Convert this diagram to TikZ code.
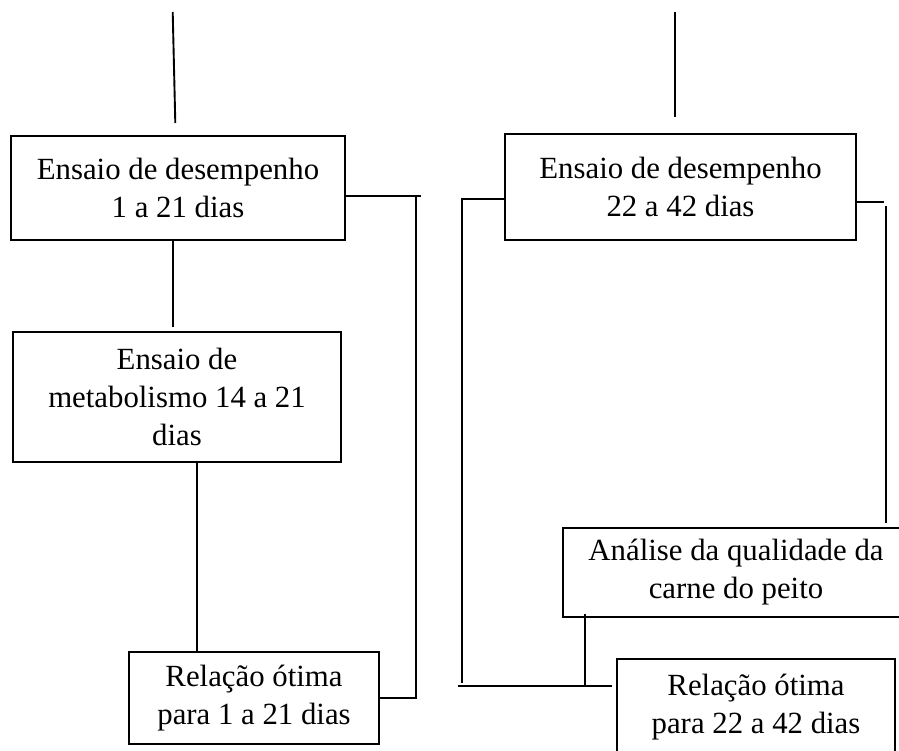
\documentclass[tikz,border=0pt]{standalone}
\usepackage{fontspec}
\setmainfont{Liberation Serif}
\begin{document}
\begin{tikzpicture}[x=1pt,y=-1pt,
  box/.style={draw=black, line width=1.9pt, inner sep=0pt, align=center,
    font=\fontsize{30.8}{38}\selectfont},
  conn/.style={draw=black, line width=1.9pt}]
\useasboundingbox (0,0) rectangle (899,751);
\clip (0,0) rectangle (899,751);
\fill[white] (0,0) rectangle (899,751);

% boxes
\node[box, minimum width=334, minimum height=104] (A) at (178,188)
  {Ensaio de desempenho\\1 a 21 dias};
\node[box, minimum width=328, minimum height=130] (B) at (177,397)
  {Ensaio de\\metabolismo 14 a 21\\dias};
\node[box, minimum width=250, minimum height=92] (C) at (254,698)
  {Relação ótima\\para 1 a 21 dias};
\node[box, minimum width=351, minimum height=106] (D) at (680.5,187)
  {Ensaio de desempenho\\22 a 42 dias};
\node[box, minimum width=346, minimum height=89] (E) at (736,572.5)
  {Análise da qualidade da\\carne do peito};
\node[box, minimum width=278, minimum height=97] (F) at (756,707.5)
  {Relação ótima\\para 22 a 42 dias};

% free ends
\coordinate (tl1) at (172.7,12);
\coordinate (tl2) at (175.3,123);
\coordinate (tr1) at (675,12);
\coordinate (tr2) at (675,117);
\coordinate (ab) at (173,327);
\coordinate (ar) at (421,196);
\coordinate (av) at (416,196);
\coordinate (dl) at (462,199);
\coordinate (dlb) at (462,683);
\coordinate (hl) at (458,686);
\coordinate (hr) at (612,686);
\coordinate (dr) at (884,202);
\coordinate (drv1) at (886,206);
\coordinate (drv2) at (886,523);

\draw[conn] (tl1) -- (tl2);
\draw[conn] (tr1) -- (tr2);
\draw[conn] (A.south -| ab) -- (ab);
\draw[conn] (A.east |- ar) -- (ar);
\draw[conn] (av) -- (av |- C.east) -- (C.east);
\draw[conn] (B.south -| 197,0) -- (C.north -| 197,0);
\draw[conn] (D.west |- dl) -- (dl) -- (dlb);
\draw[conn] (hl) -- (hr);
\draw[conn] (E.south -| 585,0) ++(0,-4) -- (585,686);
\draw[conn] (D.east |- dr) -- (dr);
\draw[conn] (drv1) -- (drv2);
\end{tikzpicture}
\end{document}
